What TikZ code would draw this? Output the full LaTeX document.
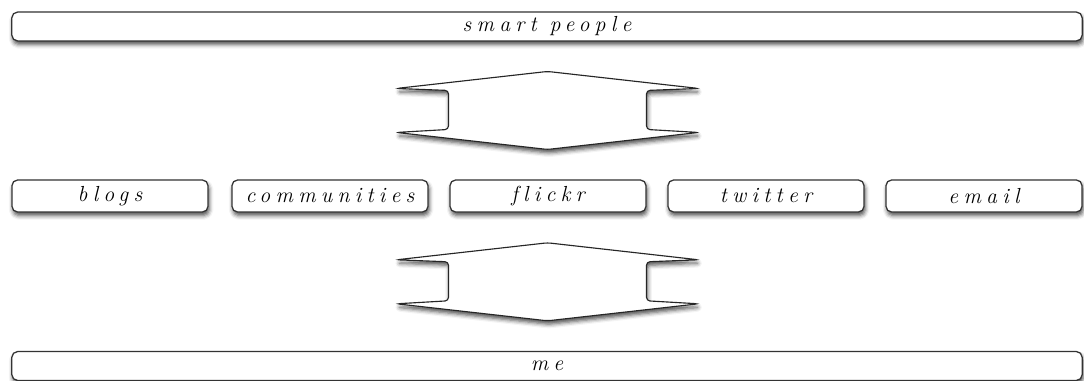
\documentclass[tikz,border=0pt]{standalone}
\usepackage{fontspec}
\usepackage{tikz}
\usetikzlibrary{positioning,calc,shadows.blur}
\newfontfamily\handfont[LetterSpace=24, Ligatures=NoCommon]{Latin Modern Roman}

% double block arrow, centred on a named coordinate
\newcommand{\flowarrow}[1]{%
  \draw[bigarr, shift={(#1)}] (0,-39) -- (151,-22) -- (99,-20) -- (99,19) -- (151,22)
    -- (0,39) -- (-151,22) -- (-99,19) -- (-99,-20) -- (-151,-22) -- cycle;}

\begin{document}
\begin{tikzpicture}[
      x=0.025cm, y=-0.025cm,
      font=\fontsize{15.5}{17}\selectfont\handfont\itshape,
      shadowed/.style={blur shadow={shadow xshift=0.8pt, shadow yshift=-2.5pt,
        shadow blur radius=3pt, shadow opacity=70}},
      wide/.style={draw=black!80, line width=0.9pt, rounded corners=4pt, fill=white,
        shadowed, minimum width=26.75cm, minimum height=0.72cm, inner sep=0pt},
      src/.style={draw=black!80, line width=0.9pt, rounded corners=4pt, fill=white,
        shadowed, minimum width=4.9cm, minimum height=0.8cm, inner sep=0pt},
      bigarr/.style={draw=black!85, line width=0.8pt, rounded corners=2.5pt, fill=white,
        shadowed}]
    \useasboundingbox (0,0) rectangle (1084,381);
    \node[wide] (people) at (547,26.5) {smart people};
    \node[src] (blogs) at (110,196) {blogs};
    \node[src] (comm) at (330,196) {communities};
    \node[src] (flickr) at (548,196) {flickr};
    \node[src] (twitter) at (766,196) {twitter};
    \node[src] (email) at (984,196) {email};
    \node[wide] (me) at (547,366) {me};
    \coordinate (up) at ($(people.south)!0.5!(flickr.north)$);
    \coordinate (down) at ($(flickr.south)!0.5!(me.north)$);
    \flowarrow{up}
    \flowarrow{down}
  \end{tikzpicture}
\end{document}
